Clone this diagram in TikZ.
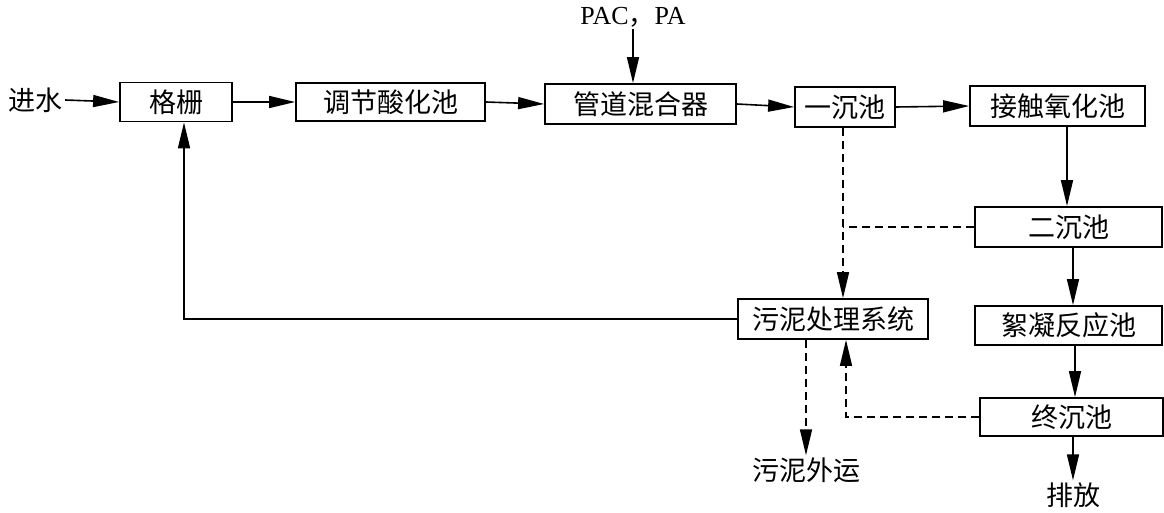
\documentclass[tikz,border=0pt]{standalone}
\usepackage{fontspec}
\setmainfont{Liberation Serif}
\newfontfamily\cjk{Noto Sans CJK SC}
\usetikzlibrary{arrows.meta}
\begin{document}
\begin{tikzpicture}[x=1pt,y=-1pt,
  box/.style={draw,line width=1.8pt,inner sep=0pt,font=\cjk\fontsize{27}{27}\selectfont},
  lbl/.style={inner sep=2pt,font=\cjk\fontsize{27}{27}\selectfont},
  flow/.style={line width=1.6pt,-{Triangle[length=26pt,width=12pt]}},
  dflow/.style={line width=1.6pt,dash pattern=on 8pt off 5pt,-{Triangle[length=26pt,width=12pt]}},
  dline/.style={line width=1.6pt,dash pattern=on 8pt off 5pt},
  sline/.style={line width=1.6pt}]
\useasboundingbox (0,0) rectangle (1164,513);
\node[lbl] (jin) at (36,100) {进水};
\node[box,minimum width=112pt,minimum height=39pt] (ge) at (176,102) {格栅};
\node[box,minimum width=189pt,minimum height=38pt] (tj) at (390.5,102) {调节酸化池};
\node[box,minimum width=191pt,minimum height=40pt] (gd) at (640.5,104) {管道混合器};
\node[box,minimum width=100pt,minimum height=40pt] (yc) at (845,107) {一沉池};
\node[box,minimum width=175pt,minimum height=40pt] (jc) at (1057.5,106) {接触氧化池};
\node[box,minimum width=187pt,minimum height=40pt] (ec) at (1068.5,227) {二沉池};
\node[box,minimum width=187pt,minimum height=39pt] (xn) at (1068.5,325.5) {絮凝反应池};
\node[box,minimum width=183pt,minimum height=38pt] (zc) at (1071.5,417) {终沉池};
\node[box,minimum width=190pt,minimum height=40pt] (wn) at (833,319) {污泥处理系统};
\node[inner sep=2pt,font=\fontsize{26}{26}\selectfont] (pac) at (633,17) {PAC{\cjk ，}PA};
\node[lbl] (wy) at (806,470) {污泥外运};
\node[lbl] (pf) at (1073,495) {排放};
\coordinate (c1) at (843,0);
\coordinate (c2) at (846,0);
\coordinate (c3) at (806,0);
\coordinate (c4) at (184,0);
\coordinate (c5) at (633,0);
\coordinate (c6) at (1067,0);
\coordinate (c7) at (1073,0);
\coordinate (c8) at (1075,0);
\draw[flow] (jin.east) -- (ge.west);
\draw[flow] (ge.east) -- (tj.west);
\draw[flow] (tj.east) -- (gd.west);
\draw[flow] (gd.east) -- (yc.west);
\draw[flow] (yc.east) -- (jc.west);
\draw[flow] (pac.south -| c5) -- (gd.north -| c5);
\draw[flow] (jc.south -| c6) -- (ec.north -| c6);
\draw[flow] (ec.south -| c7) -- (xn.north -| c7);
\draw[flow] (xn.south -| c8) -- (zc.north -| c8);
\draw[flow] (zc.south -| c7) -- (pf.north -| c7);
\draw[dflow] (yc.south -| c1) -- (wn.north -| c1);
\draw[dline] (ec.west) -- (ec.west -| c1);
\draw[dflow] (zc.west) -| (wn.south -| c2);
\draw[dflow] (wn.south -| c3) -- (wy.north -| c3);
\draw[flow] (wn.west) -| (ge.south -| c4);
\end{tikzpicture}
\end{document}
